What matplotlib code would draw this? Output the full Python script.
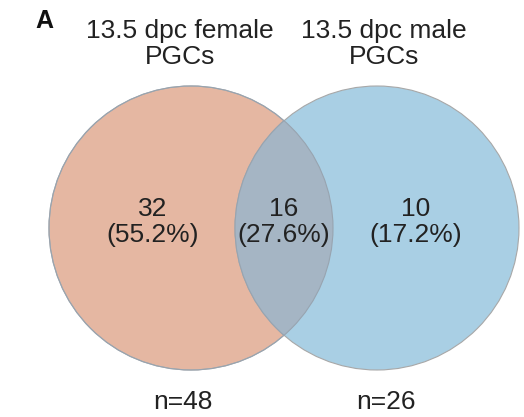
import matplotlib
matplotlib.use("Agg")
import matplotlib.pyplot as plt
from matplotlib.patches import Circle

plt.rcParams['font.family'] = ['Liberation Sans', 'DejaVu Sans']

# gene counts in each region: female only, shared, male only
groups = ["13.5 dpc female\nPGCs", "13.5 dpc male\nPGCs"]
region_counts = [32, 16, 10]
fill_colors = ["#E5B7A2", "#A9CFE4"]
overlap_color = "#A5B5C4"

# circle layout (pixel units)
centers_x = [191, 377]
center_y = 228
radius = 142

total = sum(region_counts)
set_sizes = [region_counts[0] + region_counts[1], region_counts[1] + region_counts[2]]

fig = plt.figure(figsize=(5.24, 4.17), dpi=100)
ax = fig.add_axes([0, 0, 1, 1])
ax.set_xlim(0, 524)
ax.set_ylim(417, 0)
ax.set_aspect('equal')
ax.axis('off')

circles = []
for cx, col in zip(centers_x, fill_colors):
    c = Circle((cx, center_y), radius, facecolor=col, edgecolor="#a8a8a8", lw=0.8)
    ax.add_patch(c)
    circles.append(c)

# shared region: right circle clipped by the left one
ov = Circle((centers_x[1], center_y), radius, facecolor=overlap_color,
            edgecolor="#98a4b0", lw=0.8)
ax.add_patch(ov)
ov.set_clip_path(circles[0])
# redraw left outline over the overlap
ax.add_patch(Circle((centers_x[0], center_y), radius, facecolor='none',
                    edgecolor="#98a4b0", lw=0.8))

txt = dict(ha='center', va='center', color='#222222', fontsize=19, linespacing=1.1)

label_x = [153, 284, 416]
for x, n in zip(label_x, region_counts):
    ax.text(x, 222, f"{n}\n({n / total * 100:.1f}%)", **txt)

title_x = [180, 384]
for x, g in zip(title_x, groups):
    ax.text(x, 44, g, **txt)

n_x = [183, 386]
for x, n in zip(n_x, set_sizes):
    ax.text(x, 402, f"n={n}", **txt)

ax.text(44, 21, "A", ha='center', va='center', fontsize=18, fontweight='bold', color='#111111')

fig.savefig("out.png", dpi=100)
